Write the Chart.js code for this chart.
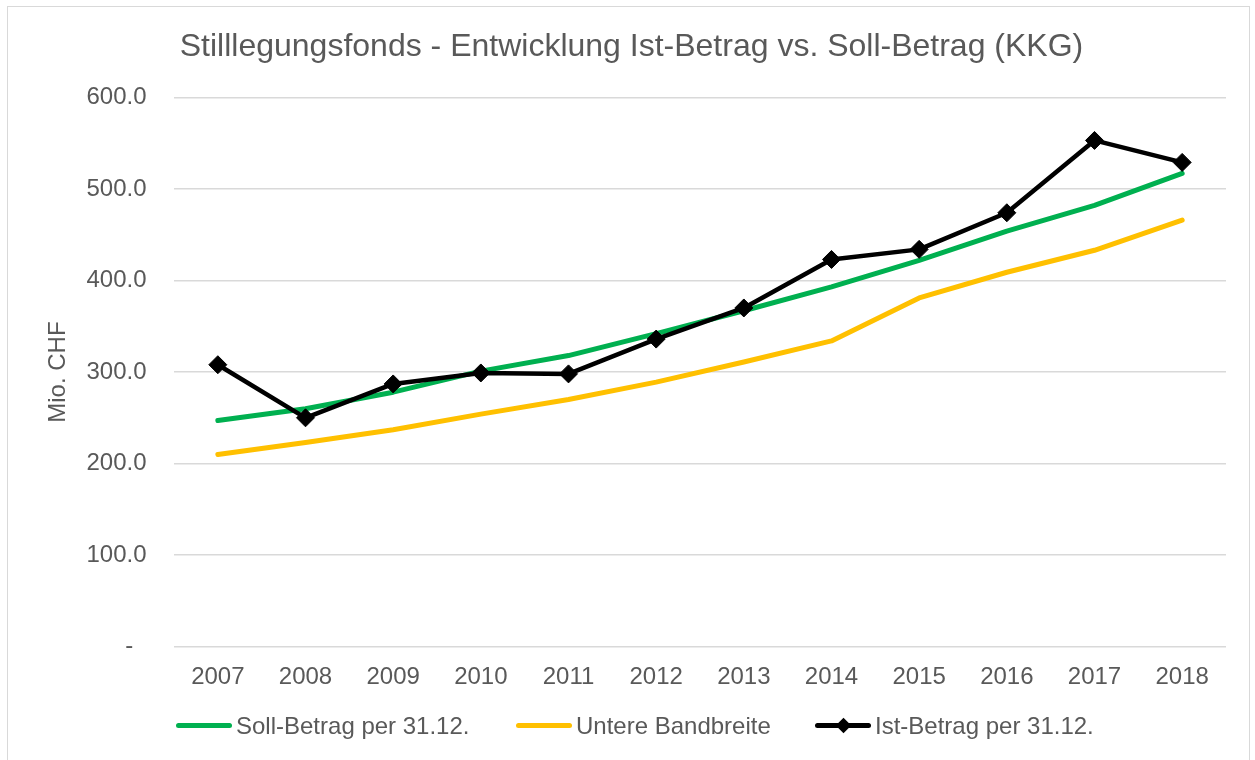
<!DOCTYPE html>
<html>
<head>
<meta charset="utf-8">
<script src="https://cdn.jsdelivr.net/npm/chart.js@4.4.1/dist/chart.umd.min.js"></script>
<style>
  html, body { margin: 0; padding: 0; background: #fff; overflow: hidden; }
  #frame { position: absolute; left: 7px; top: 6px; width: 1243px; height: 800px; border: 1.5px solid #d9d9d9; box-sizing: border-box; }
  #wrap { position: absolute; left: 0; top: 0; width: 1255px; height: 760px; }
  #legend { position: absolute; top: 711px; left: 0; height: 30px; font-family: "Liberation Sans", Arial, sans-serif; font-size: 24px; color: #595959; }
  .item { position: absolute; top: 0; height: 30px; line-height: 30px; white-space: nowrap; }
  .swatch { position: absolute; top: 12px; height: 5px; border-radius: 3px; }
  .dia { position: absolute; width: 11px; height: 11px; transform: rotate(45deg); }
  .txt { position: absolute; top: 0; }
</style>
</head>
<body>
<div id="frame"></div>
<div id="wrap"><canvas id="chart" width="1255" height="760"></canvas></div>
<div id="legend"></div>
<script>
// years on the x axis
const years = ['2007', '2008', '2009', '2010', '2011', '2012', '2013', '2014', '2015', '2016', '2017', '2018'];

// Mio. CHF
const sollBetrag = [247, 260, 278, 301, 318, 342, 367, 393, 422, 454, 482, 517];
const untereBandbreite = [210, 223, 237, 254, 270, 289, 311, 334, 381, 409, 433, 466];
const istBetrag = [308, 250, 287, 299, 298, 336, 370, 423, 434, 474, 553, 529];

const seriesLabels = ['Soll-Betrag per 31.12.', 'Untere Bandbreite', 'Ist-Betrag per 31.12.'];
const yTicks = [0, 100, 200, 300, 400, 500, 600];

const FONT = '"Liberation Sans", Arial, sans-serif';
const GREY = '#595959';

const chartData = {
  labels: years,
  datasets: [
    {
      label: seriesLabels[0],
      data: sollBetrag,
      borderColor: '#00b050',
      backgroundColor: '#00b050',
      borderWidth: 5,
      pointRadius: 0,
      order: 2,
    },
    {
      label: seriesLabels[1],
      data: untereBandbreite,
      borderColor: '#ffc000',
      backgroundColor: '#ffc000',
      borderWidth: 5,
      pointRadius: 0,
      order: 3,
    },
    {
      label: seriesLabels[2],
      data: istBetrag,
      borderColor: '#000000',
      backgroundColor: '#000000',
      borderWidth: 4.5,
      pointStyle: 'rectRot',
      pointRadius: 9,
      pointBorderWidth: 1,
      order: 1,
    },
  ],
};

const chartOptions = {
  responsive: false,
  animation: false,
  layout: { padding: { left: 37, right: 29, top: 0, bottom: 0 } },
  elements: { line: { tension: 0, borderCapStyle: 'round', borderJoinStyle: 'round' } },
  plugins: {
    legend: { display: false },
    tooltip: { enabled: false },
    title: {
      display: true,
      text: 'Stilllegungsfonds - Entwicklung Ist-Betrag vs. Soll-Betrag (KKG)',
      color: GREY,
      font: { family: FONT, size: 32, weight: 'normal' },
      padding: { top: 28, bottom: 31 },
    },
  },
  scales: {
    x: {
      offset: true,
      grid: { display: false },
      border: { display: false },
      ticks: { color: GREY, font: { family: FONT, size: 24 }, padding: 8, maxRotation: 0 },
      afterFit: (scale) => { scale.height = 113.3; },
    },
    y: {
      min: 0,
      max: 600,
      afterBuildTicks: (scale) => { scale.ticks = yTicks.map(v => ({ value: v })); },
      grid: { color: '#d9d9d9', lineWidth: 1.5, drawTicks: false },
      border: { display: false },
      ticks: {
        color: GREY,
        font: { family: FONT, size: 24 },
        padding: 27.5,
        callback: (v) => (v === 0 ? '-  ' : v.toFixed(1)),
      },
      title: {
        display: true,
        text: 'Mio. CHF',
        color: GREY,
        font: { family: FONT, size: 24 },
        padding: { top: 7, bottom: 0 },
      },
      afterFit: (scale) => { scale.width = 137; },
    },
  },
};

const chart = new Chart(document.getElementById('chart').getContext('2d'), {
  type: 'line',
  data: chartData,
  options: chartOptions,
});

// legend built from the datasets, laid out like the Excel legend
const legendX = [176, 516, 815];
const legend = document.getElementById('legend');
chart.data.datasets.forEach((ds, i) => {
  const item = document.createElement('div');
  item.className = 'item';
  item.style.left = legendX[i] + 'px';
  const sw = document.createElement('div');
  sw.className = 'swatch';
  sw.style.left = '0px';
  sw.style.width = '56px';
  sw.style.background = ds.borderColor;
  item.appendChild(sw);
  if (ds.pointStyle === 'rectRot') {
    const d = document.createElement('div');
    d.className = 'dia';
    d.style.left = '22.5px';
    d.style.top = '9px';
    d.style.background = ds.borderColor;
    item.appendChild(d);
  }
  const t = document.createElement('span');
  t.className = 'txt';
  t.style.left = '60px';
  t.textContent = ds.label;
  item.appendChild(t);
  legend.appendChild(item);
});
</script>
</body>
</html>
